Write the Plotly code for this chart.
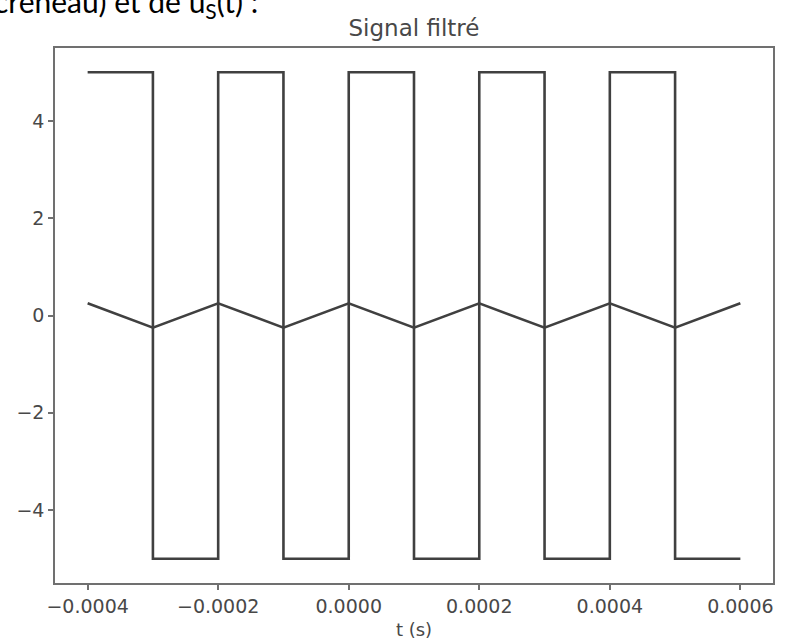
import plotly.graph_objects as go

# Data
t = [-0.0004, -0.0003, -0.0002, -0.0001, 0.0, 0.0001, 0.0002, 0.0003, 0.0004, 0.0005, 0.0006]
u_e = [5, -5, 5, -5, 5, -5, 5, -5, 5, -5, -5]          # square wave (créneau)
u_s = [0.25, -0.25, 0.25, -0.25, 0.25, -0.25, 0.25, -0.25, 0.25, -0.25, 0.25]  # filtered
x_ticks = [-0.0004, -0.0002, 0.0, 0.0002, 0.0004, 0.0006]
y_ticks = [-4, -2, 0, 2, 4]

line_col = "#404040"
txt_col = "#484848"
font = "DejaVu Sans"

fig = go.Figure()
fig.add_trace(go.Scatter(x=t, y=u_e, mode="lines", line=dict(color=line_col, width=2.6, shape="hv"),
                         showlegend=False))
fig.add_trace(go.Scatter(x=t, y=u_s, mode="lines", line=dict(color=line_col, width=2.6),
                         showlegend=False))

axis_common = dict(showline=True, mirror=True, linecolor="#707070", linewidth=1.6,
                   showgrid=False, zeroline=False, ticks="outside", ticklen=5,
                   tickcolor="#707070", tickwidth=1.6, automargin=False,
                   tickfont=dict(family=font, size=19, color=txt_col))

fig.update_xaxes(range=[-0.00045, 0.00065], tickvals=x_ticks, tickformat=".4f",
                 title=dict(text="t (s)", font=dict(family=font, size=18, color=txt_col), standoff=8),
                 **axis_common)
fig.update_yaxes(range=[-5.5, 5.5], tickvals=y_ticks, **axis_common)

fig.update_layout(
    width=786, height=644,
    margin=dict(l=55, r=13, t=48, b=61),
    paper_bgcolor="white", plot_bgcolor="white",
    title=dict(text="Signal filtré", x=(55 + 359) / 786, xanchor="center",
               y=1 - 28 / 644, yanchor="middle",
               font=dict(family=font, size=23, color=txt_col)),
    annotations=[dict(text="créneau) et de u<sub>S</sub>(t) :", xref="paper", yref="paper",
                      x=(-8 - 55) / 718, y=1 + (48 - 3) / 535, xanchor="left", yanchor="middle",
                      showarrow=False, font=dict(family="Lato", size=30, color="black"))],
)

fig.write_html("out.html")
